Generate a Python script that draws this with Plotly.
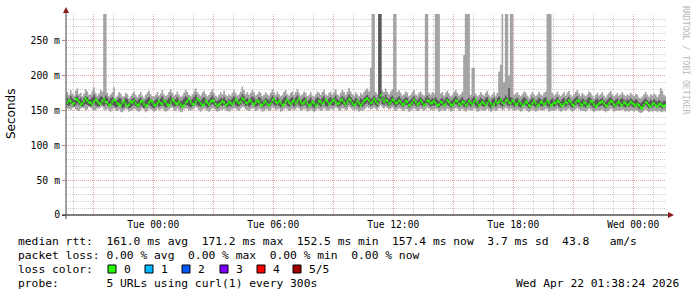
import plotly.graph_objects as go
import pandas as pd

# ---------------- data (ms) : 5-minute samples from Mon 2026-04-20 19:40 ----------------
# median rtt (green line)
med = [161,164,163,159,160,166,165,162,158,160,163,167,164,161,161,158,162,165,163,160,
       159,163,166,162,161,157,158,162,165,164,160,158,157,161,163,159,156,158,162,161,
       164,160,157,158,162,163,159,156,157,161,164,162,158,157,160,163,160,159,164,162,
       158,157,161,165,163,160,159,162,158,155,157,161,163,166,162,159,158,162,166,164,
       160,157,158,163,161,158,162,164,163,159,156,158,160,163,161,157,159,162,160,158,
       161,165,163,160,162,167,165,161,160,163,164,160,158,161,164,162,158,157,161,163,
       159,157,160,164,166,162,160,163,161,157,158,162,165,161,159,162,164,160,163,166,
       162,159,161,164,160,157,158,162,160,156,158,163,162,159,161,165,163,159,160,163,
       165,162,159,160,164,165,161,158,162,166,164,160,157,159,163,160,157,160,163,165,
       167,164,160,162,166,163,160,165,171,166,162,165,163,159,161,165,164,160,161,164,
       162,158,159,163,162,157,158,161,165,162,158,160,164,161,157,159,164,163,160,161,
       163,160,157,158,162,161,157,159,164,162,158,157,160,164,163,159,158,162,161,157,
       159,163,161,158,162,165,161,157,159,162,160,157,160,164,160,156,159,163,160,162,
       165,161,159,163,165,161,160,164,162,158,159,163,160,156,158,162,161,157,156,160,
       163,160,156,158,162,161,158,160,164,161,157,158,161,160,163,162,158,156,159,162,
       160,164,162,158,157,161,164,163,159,157,161,160,156,158,163,162,158,155,157,160,
       161,163,160,157,156,160,163,162,158,156,160,162,159,157,161,160,157,159,162,160,
       158,156,159,157,154,153,157,161,160,157,155,158,160,157,155,158,159,156,156,157]

# smoke: 1st (lowest), 2nd, 4th and 5th (highest) of the five sorted rtts
lo = [152,152,150,153,155,151,150,149,152,154,153,150,151,155,154,151,149,150,153,152,
      154,155,151,150,152,149,148,151,153,150,149,151,148,147,150,152,151,148,149,150,
      152,151,149,148,150,153,151,147,149,152,151,150,148,149,152,150,151,153,150,148,
      149,151,153,154,150,149,152,150,147,148,151,153,152,150,149,151,152,155,153,150,
      148,150,152,151,149,148,150,153,152,150,148,149,151,150,152,150,149,148,150,151,
      153,152,150,149,152,155,154,151,150,149,151,153,152,149,150,152,151,148,149,151,
      151,149,150,154,153,150,151,152,148,149,151,153,151,149,150,152,150,151,154,152,
      149,150,152,151,148,149,151,150,147,149,152,151,149,150,153,151,149,150,152,151,
      151,154,152,149,150,153,152,150,151,155,153,151,149,151,150,148,150,149,151,153,
      155,153,151,152,154,152,150,154,157,154,152,155,153,151,152,154,151,149,151,153,
      152,150,149,152,151,148,149,151,153,151,149,150,152,151,149,151,154,152,150,151,
      150,152,151,148,149,151,149,150,152,151,148,149,151,153,152,149,150,152,150,148,
      150,151,149,150,153,151,148,149,151,150,149,150,152,150,147,149,151,149,150,153,
      152,150,151,154,152,150,152,151,149,150,151,150,148,149,152,151,149,147,149,151,
      150,148,149,151,150,149,150,152,151,148,149,150,149,150,152,150,148,149,151,149,
      151,152,150,148,149,151,153,151,149,150,149,148,150,152,151,149,147,149,150,149,
      150,151,149,147,149,150,152,151,148,149,150,149,150,151,150,148,149,148,150,149,
      148,150,149,147,146,147,149,151,149,147,149,148,150,149,147,149,148,147,149,148]

dlo = [157,156,159,158,155,157,160,158,156,155,157,159,158,156,155,158,160,157,155,156,
       159,158,156,159,157,155,156,158,156,154,155,157,156,153,154,157,156,153,154,156,
       158,156,154,155,157,155,153,155,157,158,156,154,153,155,157,155,156,158,156,154,
       155,157,159,157,155,156,158,156,154,155,157,158,157,155,154,156,158,160,157,156,
       155,156,158,156,154,155,157,159,157,155,153,155,157,156,158,155,154,156,155,156,
       159,157,155,156,158,161,159,156,157,155,157,159,157,155,156,158,157,154,155,157,
       156,155,157,160,158,156,158,156,154,155,157,159,156,155,157,158,155,157,160,157,
       155,156,158,157,154,155,157,155,153,156,158,157,155,157,159,156,155,157,158,156,
       157,160,156,155,157,159,157,155,158,161,158,156,155,157,156,154,157,155,157,159,
       161,158,156,157,160,157,155,160,165,159,157,160,157,156,158,160,157,155,157,159,
       157,155,156,158,157,154,155,157,159,156,155,157,158,156,155,157,160,157,155,157,
       156,158,155,154,156,157,155,157,158,156,154,155,157,159,157,155,156,158,155,154,
       156,157,155,157,159,156,154,155,157,156,155,157,158,155,153,156,157,155,157,159,
       157,155,157,160,157,156,158,157,155,156,157,155,154,156,158,157,155,153,155,157,
       156,154,155,157,156,155,157,158,156,154,155,157,155,156,158,155,154,156,157,155,
       157,158,155,154,156,157,159,156,155,157,155,154,156,158,157,155,153,155,157,155,
       156,157,155,153,155,157,158,156,154,155,157,155,156,157,155,154,156,155,157,155,
       154,156,155,152,151,153,155,157,155,153,155,154,156,155,153,155,154,152,155,154]

dhi = [168,166,170,167,165,169,171,166,168,164,167,170,169,165,166,169,172,168,165,167,
       170,169,166,171,168,164,167,169,166,163,165,168,167,163,164,168,166,162,164,167,
       168,165,163,166,168,164,162,165,167,169,166,164,163,165,168,164,167,170,166,164,
       165,168,171,167,164,166,169,165,163,164,167,170,168,165,164,166,169,172,168,166,
       164,167,169,166,163,165,168,171,167,164,163,165,168,166,169,165,163,166,164,167,
       170,167,164,166,169,173,170,166,168,165,167,170,168,164,166,169,167,163,165,168,
       166,164,167,171,168,165,169,166,163,165,168,170,166,164,167,169,165,168,171,167,
       164,166,169,167,163,165,168,164,162,166,169,167,165,168,170,166,164,167,169,166,
       168,171,166,164,167,170,168,165,169,172,169,166,164,168,166,163,167,165,168,170,
       172,169,166,168,171,168,165,300,300,170,168,172,168,166,169,171,167,165,168,170,
       167,164,166,169,167,163,165,168,170,166,164,167,169,166,164,168,171,167,165,168,
       166,169,165,163,166,168,164,167,169,166,163,165,168,170,167,164,166,169,165,163,
       166,168,164,167,170,166,163,165,168,166,164,167,169,165,162,166,168,164,167,170,
       168,165,167,171,168,182,169,167,164,166,168,165,163,166,169,167,164,162,165,168,
       166,163,165,168,166,164,167,169,166,163,165,167,164,166,169,165,163,166,168,164,
       167,169,165,163,166,168,170,166,164,167,165,163,166,169,167,164,162,165,167,164,
       166,168,164,162,165,167,169,166,163,165,167,164,166,168,165,163,166,164,167,165,
       163,166,164,161,160,162,165,167,164,162,165,163,166,164,162,165,163,161,164,163]

hi = [176,172,179,174,171,178,181,173,175,170,174,180,177,172,173,178,183,175,171,174,
      179,177,300,300,175,170,173,176,183,168,171,176,174,169,170,175,173,167,170,174,
      177,172,169,173,176,171,168,172,175,178,173,170,169,172,176,171,174,179,173,170,
      172,176,180,175,171,173,177,172,169,171,175,179,176,172,170,173,177,181,176,173,
      171,175,178,173,170,172,176,180,175,171,169,172,176,173,178,172,170,173,171,175,
      179,175,171,173,177,184,179,173,176,172,175,179,176,171,173,177,175,170,172,176,
      173,171,175,180,176,172,177,173,170,172,176,179,173,171,175,177,172,176,180,175,
      171,173,177,175,170,172,176,171,169,173,177,175,172,176,179,173,171,175,177,173,
      176,180,173,171,175,179,176,172,177,182,177,173,171,176,173,170,175,172,176,179,
      181,177,211,300,300,176,173,300,300,178,176,181,176,173,177,180,300,300,176,179,
      175,171,173,177,175,170,172,176,179,173,171,175,177,173,171,300,300,175,172,176,
      174,300,300,300,174,176,171,175,178,174,170,172,176,179,175,171,173,177,229,300,
      300,300,172,211,211,174,170,172,176,173,171,175,178,172,169,173,176,171,175,205,
      215,300,190,300,300,200,300,300,172,174,176,172,170,173,177,175,171,168,172,176,
      173,170,172,176,173,171,175,177,300,300,300,175,171,173,177,172,170,173,176,171,
      175,178,172,169,173,176,179,174,171,175,172,170,173,177,175,171,168,172,175,171,
      173,176,171,168,172,175,178,173,170,172,175,171,173,176,172,170,173,171,175,172,
      170,174,172,168,167,169,173,176,172,169,173,171,174,172,169,173,182,178,172,170]

y_tick_vals = [0, 0.05, 0.10, 0.15, 0.20, 0.25]
y_tick_text = ["0", "50 m", "100 m", "150 m", "200 m", "250 m"]
x_label_times = ["2026-04-21 00:00", "2026-04-21 06:00", "2026-04-21 12:00",
                 "2026-04-21 18:00", "2026-04-22 00:00"]
x_label_text = ["Tue 00:00", "Tue 06:00", "Tue 12:00", "Tue 18:00", "Wed 00:00"]

stats_rtt = "median rtt:  161.0 ms avg  171.2 ms max  152.5 ms min  157.4 ms now  3.7 ms sd  43.8   am/s"
stats_loss = "packet loss: 0.00 % avg  0.00 % max  0.00 % min  0.00 % now"
loss_labels = ["0", "1", "2", "3", "4", "5/5"]
loss_colors = ["#26ff00", "#00b8ff", "#0059ff", "#7e00ff", "#ff0000", "#a10000"]
probe_text = "probe:       5 URLs using curl(1) every 300s"
stamp_text = "Wed Apr 22 01:38:24 2026"

# ---------------- geometry ----------------
W, H = 697, 297
L, R, T, B = 66, 31, 14, 82
PW, PH = W - L - R, H - T - B
Y_TOP = 0.2878


def px(x):
    return (x - L) / PW


def py(y):
    return (H - B - y) / PH


x_start = pd.Timestamp("2026-04-20 19:38:24")
x_end = pd.Timestamp("2026-04-22 01:38:24")
s0 = pd.Timestamp("2026-04-20 19:40:00")
n = len(med)
xs = [s0 + pd.Timedelta(minutes=5 * i) for i in range(n + 1)]


def sec(v):
    return [a / 1000.0 for a in v] + [v[-1] / 1000.0]


ms_per_px = Y_TOP / PH * 1000
band = 1.3 * ms_per_px          # drawn half-thickness of the median line
medL = [m - band for m in med]
medH = [m + band for m in med]

fig = go.Figure()


def add(y, fill=None, color=None):
    fig.add_trace(go.Scatter(
        x=xs, y=sec(y), mode="lines", line=dict(width=0, shape="hv"),
        fill=fill, fillcolor=color, hoverinfo="skip", showlegend=False))


add(lo)
add(hi, "tonexty", "#a4a4a4")
add(dlo)
add(dhi, "tonexty", "#585858")
add(medL)
add(medH, "tonexty", "#26ff00")

hour_ticks = pd.date_range("2026-04-20 20:00", "2026-04-22 01:00", freq="1h")
major_ticks = pd.date_range("2026-04-20 21:00", "2026-04-22 00:00", freq="3h")
tick_text = []
for t in major_ticks:
    s = t.strftime("%Y-%m-%d %H:%M")
    tick_text.append(x_label_text[x_label_times.index(s)] if s in x_label_times else "")

dash = "1px,1px"
fig.update_layout(
    width=W, height=H, margin=dict(l=L, r=R, t=T, b=B),
    paper_bgcolor="white", plot_bgcolor="white", showlegend=False,
    font=dict(family="DejaVu Sans Mono", size=10, color="#000"),
    xaxis=dict(type="date", range=[x_start, x_end], tickmode="array",
               tickvals=list(major_ticks), ticktext=tick_text,
               showgrid=True, gridcolor="#dfa3a3", griddash=dash, gridwidth=1,
               ticks="", ticklabelstandoff=2,
               tickfont=dict(family="DejaVu Sans Mono", size=9.6, color="#000"),
               minor=dict(tickvals=list(hour_ticks), showgrid=True, gridcolor="#cfcfcf",
                          griddash=dash, ticks=""),
               showline=False, zeroline=False, fixedrange=True),
    yaxis=dict(range=[0, Y_TOP], tickmode="array", tickvals=y_tick_vals, ticktext=y_tick_text,
               showgrid=True, gridcolor="#dfa3a3", griddash=dash, gridwidth=1,
               ticks="outside", ticklen=3, tickcolor="#c08080",
               tickfont=dict(family="DejaVu Sans Mono", size=9.8, color="#000"),
               minor=dict(dtick=0.01, tick0=0, showgrid=True, gridcolor="#cfcfcf",
                          griddash=dash, ticks=""),
               showline=False, zeroline=False, fixedrange=True),
)

shapes = []
shapes.append(dict(type="line", xref="paper", yref="paper", x0=px(62), x1=px(668),
                   y0=py(215), y1=py(215), line=dict(color="#000", width=1)))
shapes.append(dict(type="line", xref="paper", yref="paper", x0=px(66), x1=px(66),
                   y0=py(219), y1=py(12), line=dict(color="#404040", width=1)))
shapes.append(dict(type="path", xref="paper", yref="paper",
                   path=f"M {px(668)} {py(212)} L {px(674)} {py(215)} L {px(668)} {py(218)} Z",
                   fillcolor="#8b1a1a", line=dict(width=0)))
shapes.append(dict(type="path", xref="paper", yref="paper",
                   path=f"M {px(63)} {py(13)} L {px(66)} {py(7)} L {px(69)} {py(13)} Z",
                   fillcolor="#8b1a1a", line=dict(width=0)))

ann = []
fnt = dict(family="DejaVu Sans Mono", size=11.3, color="#000")


def text(t, x, y, anchor="left"):
    ann.append(dict(text=t, x=px(x), y=py(y), xref="paper", yref="paper",
                    xanchor=anchor, yanchor="middle", showarrow=False, font=fnt))


text(stats_rtt, 16, 241)
text(stats_loss, 16, 255)
text("loss color:", 16, 269)
box_x = [108, 145, 182, 220, 257, 293]
for bx, lab, col in zip(box_x, loss_labels, loss_colors):
    shapes.append(dict(type="rect", xref="paper", yref="paper",
                       x0=px(bx), x1=px(bx + 8), y0=py(265), y1=py(273),
                       fillcolor=col, line=dict(color="#000", width=1)))
    text(lab, bx + 14, 269)
text(probe_text, 16, 283)
text(stamp_text, 681, 283, "right")
ann.append(dict(text="Seconds", x=px(11), y=py(114), xref="paper", yref="paper",
                xanchor="center", yanchor="middle", showarrow=False, textangle=-90,
                font=dict(family="DejaVu Sans", size=12, color="#000")))
ann.append(dict(text="RRDTOOL / TOBI OETIKER", x=px(686), y=py(60), xref="paper", yref="paper",
                xanchor="center", yanchor="middle", showarrow=False, textangle=90,
                font=dict(family="DejaVu Sans Mono", size=8.2, color="#b8b8b8")))

fig.update_layout(shapes=shapes, annotations=ann)
fig.write_html("out.html")
